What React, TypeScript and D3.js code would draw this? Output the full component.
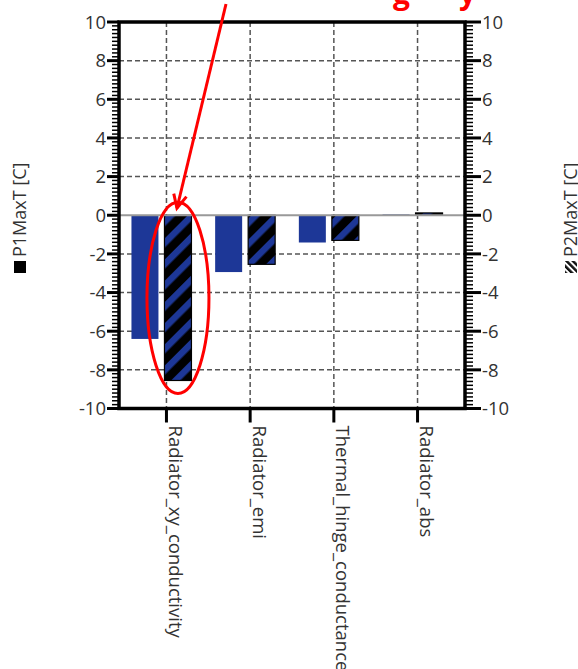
import React from 'react';
import * as d3 from 'd3';

// data
const categories = ['Radiator_xy_conductivity', 'Radiator_emi', 'Thermal_hinge_conductance', 'Radiator_abs'];
const series = ['P1MaxT', 'P2MaxT'];
const p1Values = [-6.4, -2.94, -1.41, 0.04];
const p2Values = [-8.55, -2.54, -1.3, 0.12];
const yTicks = [-10, -8, -6, -4, -2, 0, 2, 4, 6, 8, 10];

const W = 578;
const H = 669;
const plot = { left: 119, right: 465, top: 22, bottom: 408.5 };
const font = '"Open Sans", "Noto Sans", sans-serif';
const blue = '#1d3797';

const App = () => {
    const y = d3.scaleLinear().domain([-10, 10]).range([plot.bottom, plot.top]);
    const x = d3.scalePoint().domain(categories).range([plot.left, plot.right]).padding(0.567);
    // bars sit a little left of the category tick
    const inner = d3.scaleBand().domain(series).range([-35, 25]).paddingInner(0.182);
    const minor = d3.range(-10, 10.001, 0.2).filter(v => Math.abs(Math.round(v) - v) > 0.01 || Math.round(v) % 2 !== 0);

    const values = [p1Values, p2Values];
    const y0 = y(0);

    // annotation around the first hatched bar
    const hx = x(categories[0]) + inner('P2MaxT') + inner.bandwidth() / 2;
    const hTop = y(0), hBot = y(p2Values[0]);
    const ell = { cx: hx, cy: (hTop + hBot) / 2, rx: 31, ry: (hBot - hTop) / 2 + 13 };
    const arrowStart = [226, 4];
    const arrowTip = [hx - 1, hTop - 7];
    const dx = arrowTip[0] - arrowStart[0], dy = arrowTip[1] - arrowStart[1];
    const len = Math.sqrt(dx * dx + dy * dy);
    const ux = dx / len, uy = dy / len;
    const arm = (a) => {
        const c = Math.cos(a), s = Math.sin(a);
        const bx = -(ux * c - uy * s), by = -(ux * s + uy * c);
        return [arrowTip[0] + bx * 15, arrowTip[1] + by * 15];
    };
    const a1 = arm(0.45), a2 = arm(-0.45);

    return (
        <svg width={W} height={H} style={{ position: 'absolute', left: 0, top: 0, background: '#fff' }}>
            <defs>
                <pattern id="hatch" patternUnits="userSpaceOnUse" width="15" height="15" patternTransform="rotate(45)">
                    <rect width="15" height="15" fill="#000" />
                    <rect width="6.5" height="15" fill={blue} />
                </pattern>
                <pattern id="hatchIcon" patternUnits="userSpaceOnUse" width="4.5" height="4.5" patternTransform="rotate(45)">
                    <rect width="4.5" height="4.5" fill="#fff" />
                    <rect width="2.5" height="4.5" fill="#111" />
                </pattern>
            </defs>

            {/* grid */}
            {yTicks.filter(t => t !== 0 && Math.abs(t) !== 10).map(t => (
                <line key={'g' + t} x1={plot.left} x2={plot.right} y1={y(t)} y2={y(t)}
                    stroke="#555" strokeWidth={1.5} strokeDasharray="5,3" />
            ))}
            {categories.map(c => (
                <line key={'v' + c} x1={x(c)} x2={x(c)} y1={plot.top} y2={plot.bottom}
                    stroke="#555" strokeWidth={1.5} strokeDasharray="5,3" />
            ))}

            {/* bars */}
            {series.map((s, si) => values[si].map((v, i) => {
                const bx = x(categories[i]) + inner(s);
                const top = Math.min(y(v), y0);
                const h = Math.abs(y(v) - y0);
                return si === 0
                    ? <rect key={s + i} x={bx} y={top} width={inner.bandwidth()} height={Math.max(h, 1.5)} fill={blue} />
                    : <rect key={s + i} x={bx} y={top} width={inner.bandwidth()} height={Math.max(h, 1)}
                        fill="url(#hatch)" stroke="#000" strokeWidth={1.2} />;
            }))}

            {/* zero line */}
            <line x1={plot.left} x2={plot.right} y1={y0} y2={y0} stroke="#999" strokeWidth={2} />

            {/* frame */}
            <rect x={plot.left} y={plot.top} width={plot.right - plot.left} height={plot.bottom - plot.top}
                fill="none" stroke="#000" strokeWidth={3.5} />

            {/* left and right axes */}
            {minor.map(v => (
                <g key={'m' + v}>
                    <line x1={plot.left - 7} x2={plot.left} y1={y(v)} y2={y(v)} stroke="#000" strokeWidth={1.5} />
                    <line x1={plot.right} x2={plot.right + 8} y1={y(v)} y2={y(v)} stroke="#000" strokeWidth={1.5} />
                </g>
            ))}
            {yTicks.map(t => (
                <g key={'t' + t}>
                    <line x1={plot.left - 12} x2={plot.left} y1={y(t)} y2={y(t)} stroke="#000" strokeWidth={3} />
                    <line x1={plot.right} x2={plot.right + 16} y1={y(t)} y2={y(t)} stroke="#000" strokeWidth={3} />
                    <text x={plot.left - 13} y={y(t)} dy="0.36em" textAnchor="end" fontFamily={font} fontSize={18.5} fill="#333">{t}</text>
                    <text x={plot.right + 17} y={y(t)} dy="0.36em" textAnchor="start" fontFamily={font} fontSize={18.5} fill="#333">{t}</text>
                </g>
            ))}

            {/* category axis */}
            {categories.map(c => (
                <g key={'c' + c}>
                    <line x1={x(c)} x2={x(c)} y1={plot.bottom} y2={plot.bottom + 14} stroke="#000" strokeWidth={3} />
                    <text transform={`translate(${x(c) + 2.5},${plot.bottom + 17}) rotate(90)`}
                        fontFamily={font} fontSize={18.5} fill="#333">{c}</text>
                </g>
            ))}

            {/* axis titles */}
            <g transform="translate(26,216) rotate(-90)">
                <rect x={-57} y={-12} width={12} height={12} fill="#000" />
                <text x={-41} y={0} fontFamily={font} fontSize={18} fill="#333">P1MaxT [C]</text>
            </g>
            <g transform="translate(577,216) rotate(-90)">
                <rect x={-57} y={-12} width={12} height={12} fill="url(#hatchIcon)" />
                <text x={-41} y={0} fontFamily={font} fontSize={18} fill="#333">P2MaxT [C]</text>
            </g>

            {/* red annotation */}
            <text x={393} y={4} fontFamily={font} fontSize={30} fontWeight="bold" fill="#f00">g</text>
            <text x={459} y={4} fontFamily={font} fontSize={30} fontWeight="bold" fill="#f00">y</text>
            <ellipse cx={ell.cx} cy={ell.cy} rx={ell.rx} ry={ell.ry} fill="none" stroke="#f00" strokeWidth={3} />
            <line x1={arrowStart[0]} y1={arrowStart[1]} x2={arrowTip[0]} y2={arrowTip[1]} stroke="#f00" strokeWidth={3} />
            <polyline points={`${a1[0]},${a1[1]} ${arrowTip[0]},${arrowTip[1]} ${a2[0]},${a2[1]}`}
                fill="none" stroke="#f00" strokeWidth={3} />
        </svg>
    );
};

export default App;
